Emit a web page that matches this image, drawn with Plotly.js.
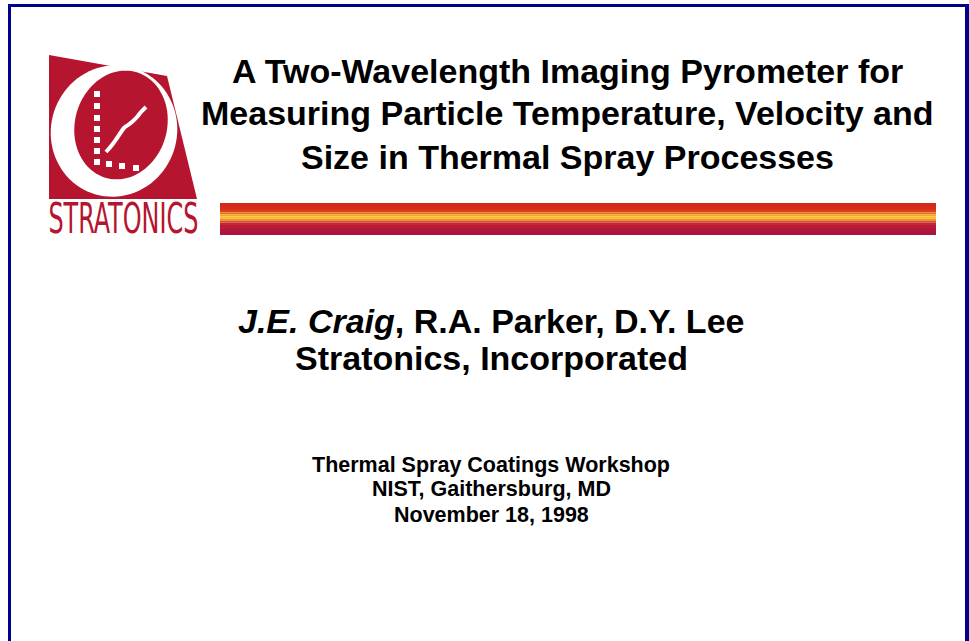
<!DOCTYPE html>
<html>
<head>
<meta charset="utf-8">
<script src="https://cdn.plot.ly/plotly-3.0.1.min.js"></script>
<style>html,body{margin:0;padding:0;background:#fff;}#chart{width:969px;height:641px;}</style>
</head>
<body>
<div id="chart"></div>
<script>
// ---- text content ----
const titleLines = [
  "A Two-Wavelength Imaging Pyrometer for",
  "Measuring Particle Temperature, Velocity and",
  "Size in Thermal Spray Processes"
];
const authorLines = [
  "<i>J.E. Craig</i>, R.A. Parker, D.Y. Lee",
  "Stratonics, Incorporated"
];
const eventLines = [
  "Thermal Spray Coatings Workshop",
  "NIST, Gaithersburg, MD",
  "November 18, 1998"
];
const logoWord = "STRATONICS";

// ---- logo marks ----
const dotX = [97, 97, 97, 97, 97, 97, 97, 109, 122, 136, 150];
const dotY = [94, 106, 118, 129, 140, 151, 162, 164, 166, 168, 171];
const curveX = [106, 112, 117, 121, 124, 128, 132, 137, 141, 146];
const curveY = [152, 145, 138, 132, 128, 125, 122, 117, 112, 107];

// ---- stripe bands (top to bottom) ----
const stripeColors = ["#d22a1c", "#d6301a", "#dc421a", "#e6701c", "#f4aa1e", "#f8c020", "#f0981e", "#dc501e", "#c6282c", "#b81a3a", "#ae1640", "#a8143e"];
const stripeEdges  = [203, 207, 210, 212.5, 214.5, 216.5, 218.5, 220.5, 222.5, 225, 229, 232, 235];

function ellipsePath(cx, cy, rx, ry, deg) {
  const a = deg * Math.PI / 180, n = 90;
  let p = "";
  for (let i = 0; i <= n; i++) {
    const t = 2 * Math.PI * i / n;
    const ex = rx * Math.cos(t), ey = ry * Math.sin(t);
    const x = cx + ex * Math.cos(a) - ey * Math.sin(a);
    const y = cy + ex * Math.sin(a) + ey * Math.cos(a);
    p += (i === 0 ? "M" : "L") + x.toFixed(2) + "," + y.toFixed(2);
  }
  return p + "Z";
}

const NAVY = "#000088";
const RED = "#b5152f";
const shapes = [];
// border
shapes.push({type: "rect", xref: "x", yref: "y", x0: 8, x1: 969, y0: 4, y1: 7, fillcolor: NAVY, line: {width: 0}});
shapes.push({type: "rect", xref: "x", yref: "y", x0: 8, x1: 11, y0: 4, y1: 641, fillcolor: NAVY, line: {width: 0}});
shapes.push({type: "rect", xref: "x", yref: "y", x0: 965, x1: 969, y0: 4, y1: 641, fillcolor: NAVY, line: {width: 0}});
// logo
shapes.push({type: "path", xref: "x", yref: "y", path: "M49,55L167,76L197,199L49,199Z", fillcolor: RED, line: {width: 0}, layer: "below"});
shapes.push({type: "path", xref: "x", yref: "y", path: ellipsePath(114, 131, 63, 66, 18), fillcolor: "#ffffff", line: {width: 0}, layer: "below"});
shapes.push({type: "path", xref: "x", yref: "y", path: ellipsePath(121, 125, 46, 55, 16), fillcolor: RED, line: {width: 0}, layer: "below"});
// stripe
for (let i = 0; i < stripeColors.length; i++) {
  shapes.push({type: "rect", xref: "x", yref: "y", x0: 220, x1: 936, y0: stripeEdges[i], y1: stripeEdges[i + 1], fillcolor: stripeColors[i], line: {width: 0}, layer: "below"});
}

const FONT = "Liberation Sans, Arial, sans-serif";
const annotations = [];
function addLines(lines, cx, baselines, size) {
  lines.forEach((t, i) => {
    annotations.push({
      xref: "x", yref: "y", x: cx, y: baselines[i] - size * 0.36,
      text: t, showarrow: false, xanchor: "center", yanchor: "middle",
      font: {family: FONT, size: size, color: "#000000", weight: "bold"}
    });
  });
}
addLines(titleLines, 567, [83, 125, 169], 34);
addLines(authorLines, 491, [333, 370], 34);
addLines(eventLines, 491, [473, 497, 523], 21.5);
annotations.push({
  xref: "x", yref: "y", x: 123, y: 218, text: logoWord, showarrow: false,
  xanchor: "center", yanchor: "middle",
  font: {family: "Liberation Sans Narrow, DejaVu Sans Condensed, sans-serif", size: 42, color: RED}
});

const traces = [
  {x: dotX, y: dotY, type: "scatter", mode: "markers", hoverinfo: "skip",
   marker: {symbol: "square", size: 6, color: "#ffffff", line: {width: 0}}},
  {x: curveX, y: curveY, type: "scatter", mode: "lines", hoverinfo: "skip",
   line: {color: "#ffffff", width: 4, shape: "spline"}}
];

const layout = {
  width: 969, height: 641,
  margin: {l: 0, r: 0, t: 0, b: 0},
  paper_bgcolor: "#ffffff", plot_bgcolor: "#ffffff",
  showlegend: false,
  xaxis: {range: [0, 969], visible: false, fixedrange: true},
  yaxis: {range: [641, 0], visible: false, fixedrange: true},
  shapes: shapes, annotations: annotations
};

Plotly.newPlot("chart", traces, layout, {staticPlot: true, displayModeBar: false}).then(() => {
  // condense the logo word horizontally to fit the logo width
  document.querySelectorAll("#chart g.annotation text").forEach(el => {
    if (el.textContent === logoWord) {
      const bb = el.getBBox();
      const sx = 150 / bb.width;
      const cx = bb.x + bb.width / 2;
      el.setAttribute("transform", "matrix(" + sx + ",0,0,1," + (cx * (1 - sx)) + ",0)");
    }
  });
});
</script>
</body>
</html>
